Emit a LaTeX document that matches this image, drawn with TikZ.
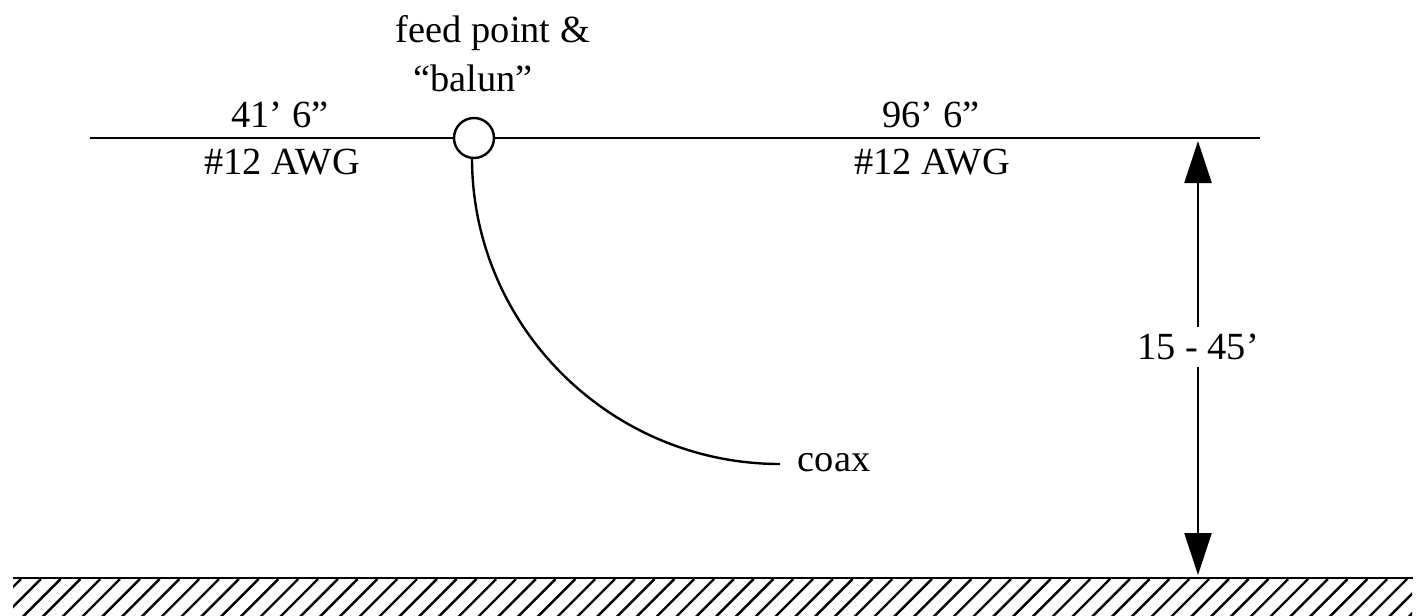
\documentclass[tikz,border=0pt]{standalone}
\usepackage{fontspec}
\setmainfont{Liberation Serif}
\usetikzlibrary{arrows.meta, positioning}
\tikzset{
  wire/.style={line width=2.4pt, black},
  label/.style={inner sep=0pt, font=\fontsize{38.4}{42}\selectfont, black},
  hatch/.style={line width=2.4pt, black},
  dim/.style={line width=2.4pt, black, -{Triangle[width=27pt,length=42pt]}}
}
\begin{document}
\begin{tikzpicture}[x=1pt, y=-1pt]
\useasboundingbox (0,0) rectangle (1425,616);
% antenna
\node[draw, circle, wire, fill=white, minimum size=40pt, inner sep=0pt] (feed) at (474,138) {};
\coordinate (leftend) at (90,138);
\coordinate (rightend) at (1260,138);
\draw[wire] (leftend) -- (feed.west);
\draw[wire] (feed.east) -- (rightend);
\node[label] (feedtext) at (493,33) {feed point \&};
\node[label] (baluntext) at (473,78) {“balun”};
\node[label] (leftlen) at (280,115) {41’ 6”};
\node[label] (leftawg) at (282,162) {\#12 AWG};
\node[label] (rightlen) at (931,115) {96’ 6”};
\node[label] (rightawg) at (932,162) {\#12 AWG};
% coax
\node[label] (coaxtext) at (834,463) {coax};
\coordinate (coaxend) at (780,464);
\draw[wire] (472,158) .. controls (472,326) and (610,464) .. (coaxend);
% ground
\coordinate (groundleft) at (13,578);
\coordinate (groundright) at (1413,578);
\begin{scope}
\clip (13,579) rectangle (1412,616);
\foreach \i in {0,...,72}
  \draw[hatch] (21+19.8*\i,579) -- ++(-50,50);
\end{scope}
\draw[wire] (groundleft) -- (groundright);
% height
\coordinate (dimtop) at (1198,141);
\coordinate (dimbottom) at (1198,575);
\node[label, minimum height=40pt] (heighttext) at (1198,347) {15 - 45’};
\draw[dim] (heighttext) -- (dimtop);
\draw[dim] (heighttext) -- (dimbottom);
\end{tikzpicture}
\end{document}
